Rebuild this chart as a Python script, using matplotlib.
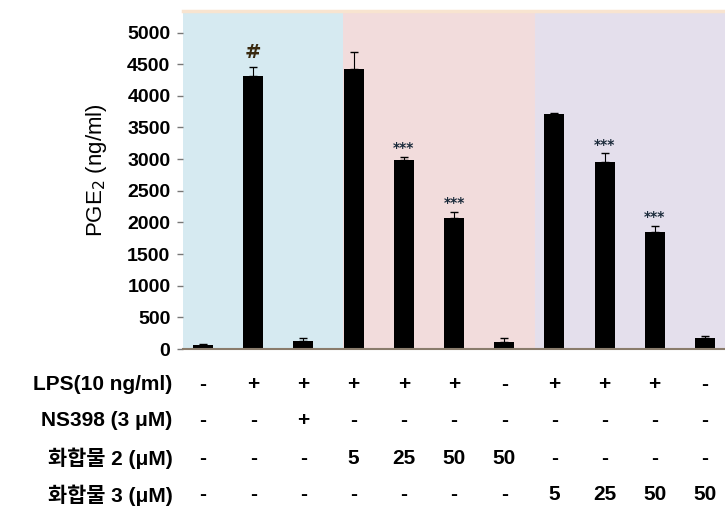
import numpy as np
import matplotlib
matplotlib.use("Agg")
import matplotlib.pyplot as plt
import matplotlib.transforms as mtransforms

# ── Data ──────────────────────────────────────────────────────────────────────

PGE2 = [70, 4320, 130, 4430, 2980, 2070, 110, 3710, 2960, 1850, 175]
ERR = [10, 140, 50, 270, 60, 90, 65, 20, 130, 95, 30]
MARKS = ["", "#", "", "", "***", "***", "", "", "***", "***", ""]

ROW_LABELS = ["LPS(10 ng/ml)", "NS398 (3 μM)", "화합물 2 (μM)", "화합물 3 (μM)"]
ROWS = [
    ["-", "+", "+", "+", "+", "+", "-", "+", "+", "+", "-"],
    ["-", "-", "+", "-", "-", "-", "-", "-", "-", "-", "-"],
    ["-", "-", "-", "5", "25", "50", "50", "-", "-", "-", "-"],
    ["-", "-", "-", "-", "-", "-", "-", "5", "25", "50", "50"],
]

# background groups: (start, end, colour) in bar-index units
GROUPS = [(-0.4, 2.79, "#d6eaf1"), (2.79, 6.61, "#f2dcdc"), (6.61, 10.4, "#e4dfec")]

FONTS = ["Liberation Sans", "Noto Sans CJK KR"]

# ── Drawing ───────────────────────────────────────────────────────────────────

fig = plt.figure(figsize=(7.25, 5.15), dpi=100)
ax = fig.add_axes([0.2524, 0.3223, 0.7476, 0.6563])

x = np.arange(len(PGE2))

for x0, x1, col in GROUPS:
    ax.axvspan(x0, x1, color=col, zorder=0, lw=0)

ax.bar(x, PGE2, width=0.4, color="black", zorder=2)
ax.errorbar(x, PGE2, yerr=[np.zeros(len(ERR)), ERR], fmt="none",
            ecolor="black", elinewidth=0.8, capsize=3, capthick=1, zorder=3)

for xi, v, e, m in zip(x, PGE2, ERR, MARKS):
    if not m:
        continue
    if m == "#":
        ax.text(xi, v + e + 80, m, ha="center", va="bottom",
                fontsize=14, fontweight="bold", color="#3a2a10")
    else:
        ax.text(xi, v + e + 30, m, ha="center", va="bottom",
                fontsize=10, fontweight="bold", color="#1a2a3a")

ax.set_xlim(-0.4, 10.4)
ax.set_ylim(0, 5340)
ax.set_yticks(range(0, 5001, 500))
ax.set_yticklabels([str(v) for v in range(0, 5001, 500)],
                   fontsize=14, fontweight="bold", family=["Liberation Sans"])
ax.tick_params(axis="y", length=4, width=1, color="#777777", pad=5)
ax.set_xticks([])

for s in ("left", "right"):
    ax.spines[s].set_visible(False)
ax.spines["top"].set_color("#f8e4d0")
ax.spines["top"].set_linewidth(2.5)
ax.spines["bottom"].set_color("#8a7c6c")
ax.spines["bottom"].set_linewidth(1.5)

ax.set_ylabel("PGE$_2$ (ng/ml)", fontsize=16, family=["Liberation Sans"])
ax.yaxis.set_label_coords(-0.137, 0.53)

# treatment table under the bars
trans = mtransforms.blended_transform_factory(ax.transData, fig.transFigure)
row_y = [1 - 385 / 515, 1 - 421 / 515, 1 - 458 / 515, 1 - 495 / 515]
for label, vals, yy in zip(ROW_LABELS, ROWS, row_y):
    fig.text(0.238, yy, label, ha="right", va="center", fontsize=15,
             fontweight="bold", family=FONTS)
    for xi, v in zip(x, vals):
        ax.text(xi, yy, v, transform=trans, ha="center", va="center",
                fontsize=15, fontweight="bold", family=FONTS, clip_on=False)

fig.savefig("out.png", dpi=100)
